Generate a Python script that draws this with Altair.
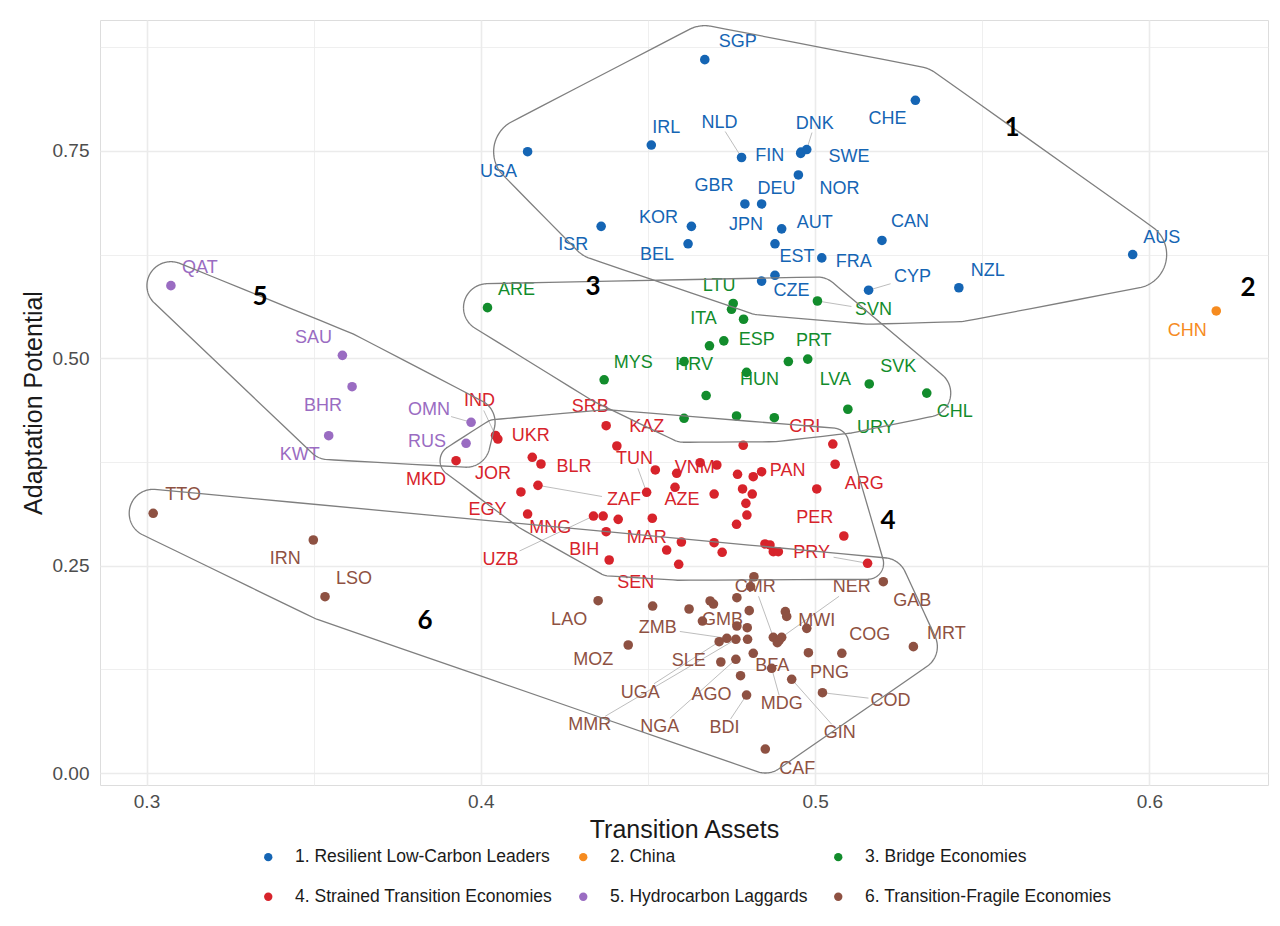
import numpy as np
import pandas as pd
import altair as alt

# ------------------------------------------------------------------ data
GROUPS = ["1. Resilient Low-Carbon Leaders", "2. China", "3. Bridge Economies",
          "4. Strained Transition Economies", "5. Hydrocarbon Laggards",
          "6. Transition-Fragile Economies"]
COLORS = ["#1565b4", "#f68b1f", "#128c2c", "#d7232b", "#9a6cc2", "#8e5142"]

c1_code = ["SGP", "CHE", "USA", "IRL", "NLD", "FIN", "SWE", "DNK", "NOR", "GBR", "DEU", "KOR",
           "ISR", "BEL", "AUT", "JPN", "FRA", "EST", "CZE", "CAN", "CYP", "NZL", "AUS"]
c1_x = [0.467, 0.530, 0.414, 0.451, 0.478, 0.4957, 0.4958, 0.4975, 0.495, 0.479, 0.484, 0.463,
        0.436, 0.462, 0.490, 0.488, 0.502, 0.488, 0.484, 0.520, 0.516, 0.543, 0.595]
c1_y = [0.860, 0.811, 0.749, 0.757, 0.742, 0.747, 0.7486, 0.7516, 0.721, 0.686, 0.686, 0.659,
        0.659, 0.638, 0.656, 0.638, 0.621, 0.600, 0.593, 0.642, 0.582, 0.585, 0.625]

c2_code = ["CHN"]
c2_x = [0.620]
c2_y = [0.557]

c3_code = ["ARE", "LTU", "ITA", "", "SVN", "ESP", "", "MYS", "HRV", "HUN", "LVA", "PRT",
           "SVK", "CHL", "URY", "", "", "", ""]
c3_x = [0.402, 0.4755, 0.475, 0.4786, 0.5007, 0.4727, 0.4684, 0.4369, 0.4608, 0.4795, 0.492,
        0.4978, 0.5162, 0.5334, 0.5098, 0.4674, 0.4608, 0.4765, 0.4878]
c3_y = [0.561, 0.566, 0.559, 0.547, 0.569, 0.521, 0.515, 0.474, 0.496, 0.483, 0.496,
        0.499, 0.469, 0.458, 0.4385, 0.455, 0.4276, 0.4304, 0.4283]

c4_code = ["IND", "UKR", "MKD", "", "BLR", "JOR", "ZAF", "EGY", "UZB", "", "", "MNG", "BIH",
           "SRB", "KAZ", "TUN", "", "VNM", "", "", "AZE", "", "MAR", "", "SEN", "", "", "",
           "", "", "", "PAN", "", "", "", "", "", "", "", "", "", "CRI", "ARG", "", "PER", "PRY"]
c4_x = [0.4044, 0.4051, 0.3926, 0.4154, 0.4180, 0.4120, 0.4171, 0.4140, 0.4337, 0.4366, 0.4411,
        0.4375, 0.4384, 0.4375, 0.4407, 0.4496, 0.4522, 0.4586, 0.4656, 0.4706, 0.4581, 0.4513,
        0.4556, 0.4600, 0.4592, 0.4698, 0.4698, 0.4722, 0.4785, 0.4768, 0.4815, 0.4840, 0.4783,
        0.4812, 0.4793, 0.4796, 0.4765, 0.4850, 0.4865, 0.4875, 0.4890, 0.5053, 0.5060, 0.5005,
        0.5086, 0.5157]
c4_y = [0.4069, 0.4026, 0.3765, 0.3806, 0.3725, 0.3388, 0.3468, 0.3122, 0.3098, 0.3098, 0.3058,
        0.2909, 0.2568, 0.4187, 0.3942, 0.3384, 0.3653, 0.3613, 0.3741, 0.3713, 0.3444, 0.3071,
        0.2688, 0.2785, 0.2516, 0.3363, 0.2776, 0.2661, 0.3951, 0.3601, 0.3572, 0.3632, 0.3424,
        0.3363, 0.3251, 0.3110, 0.2998, 0.2761, 0.2749, 0.2668, 0.2668, 0.3966, 0.3722, 0.3424,
        0.2857, 0.2528]

c5_code = ["QAT", "SAU", "BHR", "KWT", "OMN", "RUS"]
c5_x = [0.3073, 0.3586, 0.3615, 0.3545, 0.3971, 0.3956]
c5_y = [0.5875, 0.5035, 0.4657, 0.4066, 0.4228, 0.3975]

c6_code = ["TTO", "IRN", "LSO", "", "", "GAB", "LAO", "", "", "", "", "", "", "GMB", "", "",
           "MMR", "", "ZMB", "UGA", "", "MWI", "", "CMR", "", "NER", "", "COG", "MRT", "MOZ",
           "SLE", "NGA", "BFA", "PNG", "MDG", "AGO", "GIN", "COD", "BDI", "CAF"]
c6_x = [0.3020, 0.3499, 0.3534, 0.4817, 0.4807, 0.5204, 0.4351, 0.4514, 0.4623, 0.4686, 0.4696,
        0.4766, 0.4803, 0.4663, 0.4766, 0.4797, 0.4763, 0.4798, 0.4736, 0.4713, 0.4911, 0.4915,
        0.4975, 0.4875, 0.4893, 0.4900, 0.4887, 0.5080, 0.5294, 0.4441, 0.4718, 0.4763, 0.4815,
        0.4980, 0.4870, 0.4777, 0.4930, 0.5022, 0.4795, 0.4851]
c6_y = [0.3131, 0.2809, 0.2125, 0.2366, 0.2246, 0.2306, 0.2077, 0.2013, 0.1977, 0.2074, 0.2037,
        0.2113, 0.1957, 0.1832, 0.1772, 0.1752, 0.1612, 0.1612, 0.1624, 0.1583, 0.1945, 0.1887,
        0.1744, 0.1636, 0.1603, 0.1636, 0.1571, 0.1443, 0.1523, 0.1543, 0.1338, 0.1371, 0.1443,
        0.1450, 0.1262, 0.1173, 0.1130, 0.0968, 0.0940, 0.0289]

CLUSTER_NUM = ["1", "2", "3", "4", "5", "6"]
CLUSTER_NUM_X = [0.5589, 0.6295, 0.4336, 0.5218, 0.3340, 0.3833]
CLUSTER_NUM_Y = [0.7776, 0.5847, 0.5859, 0.3038, 0.5738, 0.1832]

# label placement (pixel offsets from the point, dy downwards, leader flag)
LABEL_OFFSET = {
    "SGP": (33, -18, 0), "CHE": (-28, 19, 0), "USA": (-29, 20, 0), "IRL": (15, -17, 0),
    "NLD": (-22, -35, 1), "FIN": (-31, 3, 0), "DNK": (8, -26, 1), "SWE": (48, 5, 0),
    "NOR": (41, 14, 0), "GBR": (-31, -18, 0), "DEU": (15, -15, 0), "KOR": (-33, -8, 0),
    "ISR": (-28, 19, 0), "BEL": (-31, 11, 0), "JPN": (-29, -19, 0), "AUT": (33, -6, 0),
    "EST": (22, -18, 0), "FRA": (32, 4, 0), "CZE": (30, 10, 0), "CAN": (28, -18, 0),
    "CYP": (44, -13, 1), "NZL": (29, -17, 0), "AUS": (29, -17, 0), "CHN": (-29, 20, 0),
    "ARE": (29, -18, 0), "LTU": (-14, -18, 0), "ITA": (-28, 10, 0), "SVN": (56, 9, 1),
    "ESP": (33, -1, 0), "PRT": (6, -18, 0), "MYS": (29, -17, 0), "HRV": (10, 3, 0),
    "HUN": (13, 8, 0), "LVA": (47, 18, 0), "SVK": (29, -17, 0), "CHL": (28, 19, 0),
    "URY": (28, 19, 0),
    "QAT": (29, -18, 0), "SAU": (-29, -17, 0), "BHR": (-29, 19, 0), "KWT": (-29, 19, 0),
    "OMN": (-42, -12, 1), "RUS": (-39, -1, 0),
    "IND": (-16, -34, 1), "UKR": (33, -3, 0), "MKD": (-30, 19, 0), "BLR": (33, 3, 0),
    "JOR": (-28, -18, 0), "ZAF": (86, 15, 1), "EGY": (-40, -4, 0), "MNG": (-56, -4, 0),
    "UZB": (-93, 44, 1), "BIH": (-25, -10, 0), "SRB": (-16, -19, 0), "KAZ": (30, -19, 0),
    "TUN": (-12, -33, 1), "VNM": (18, -5, 0), "AZE": (7, 13, 0), "MAR": (-20, -12, 0),
    "SEN": (-43, 19, 0), "PAN": (26, -1, 0), "CRI": (-28, -17, 0), "ARG": (29, 20, 0),
    "PER": (-29, -18, 0), "PRY": (-56, -10, 1),
    "TTO": (30, -18, 0), "IRN": (-28, 19, 0), "LSO": (29, -18, 0), "LAO": (-29, 19, 0),
    "CMR": (-18, -50, 1), "GAB": (29, 19, 0), "NER": (70, -50, 1), "GMB": (20, -1, 0),
    "ZMB": (-69, -10, 1), "MWI": (30, 5, 0), "COG": (28, -18, 0), "MRT": (33, -13, 0),
    "MOZ": (-35, 15, 0), "SLE": (-32, -1, 0), "BFA": (19, 13, 0), "PNG": (21, 20, 0),
    "MDG": (10, 36, 1), "AGO": (-29, 19, 0), "GIN": (48, 54, 1), "COD": (68, 8, 1),
    "BDI": (-22, 33, 1), "CAF": (32, 20, 0), "UGA": (-79, 51, 1), "MMR": (-146, 86, 1),
    "NGA": (-76, 68, 1),
}
HULL_RADIUS = {1: 34, 3: 24, 4: 16, 5: 24, 6: 24}

# ------------------------------------------------------------------ frames
clusters = [(1, c1_code, c1_x, c1_y), (2, c2_code, c2_x, c2_y), (3, c3_code, c3_x, c3_y),
            (4, c4_code, c4_x, c4_y), (5, c5_code, c5_x, c5_y), (6, c6_code, c6_x, c6_y)]
rows = []
for k, codes, xs, ys in clusters:
    for c, x, y in zip(codes, xs, ys):
        rows.append(dict(code=c, x=x, y=y, cl=k, group=GROUPS[k - 1], col=COLORS[k - 1]))
df = pd.DataFrame(rows)

PXX, PXY = 3343.0, 829.5          # pixels per data unit
W, H = 1168, 765
x0 = 0.3 - 46.5 / PXX
XDOM = [x0, x0 + W / PXX]
YDOM = [-12 / PXY, 753 / PXY]

lab_rows, seg_rows = [], []
for r in df.itertuples():
    if not r.code or r.code not in LABEL_OFFSET:
        continue
    dx, dy, lead = LABEL_OFFSET[r.code]
    lab_rows.append(dict(code=r.code, lx=r.x + dx / PXX, ly=r.y - dy / PXY, col=r.col))
    if lead:
        hw, hh = 22.0, 9.0
        t = min(hw / abs(dx) if dx else 1e9, hh / abs(dy) if dy else 1e9)
        ex, ey = dx * (1 - t), dy * (1 - t)
        seg_rows.append(dict(sx=r.x, sy=r.y, ex=r.x + ex / PXX, ey=r.y - ey / PXY))
labs = pd.DataFrame(lab_rows)
segs = pd.DataFrame(seg_rows)


def convex_hull(pts):
    pts = sorted(set(pts))
    if len(pts) <= 2:
        return pts

    def cross(o, a, b):
        return (a[0] - o[0]) * (b[1] - o[1]) - (a[1] - o[1]) * (b[0] - o[0])
    lower, upper = [], []
    for p in pts:
        while len(lower) >= 2 and cross(lower[-2], lower[-1], p) <= 0:
            lower.pop()
        lower.append(p)
    for p in reversed(pts):
        while len(upper) >= 2 and cross(upper[-2], upper[-1], p) <= 0:
            upper.pop()
        upper.append(p)
    return lower[:-1] + upper[:-1]


hull_rows = []
ang = np.linspace(0, 2 * np.pi, 60, endpoint=False)
for k, codes, xs, ys in clusters:
    if k not in HULL_RADIUS:
        continue
    rad = HULL_RADIUS[k]
    P = []
    for x, y in zip(xs, ys):
        px, py = x * PXX, y * PXY
        for a in ang:
            P.append((round(px + rad * np.cos(a), 3), round(py + rad * np.sin(a), 3)))
    Hh = np.array(convex_hull(P))
    for _ in range(2):
        Q = np.roll(Hh, -1, axis=0)
        N = np.empty((2 * len(Hh), 2))
        N[0::2] = 0.75 * Hh + 0.25 * Q
        N[1::2] = 0.25 * Hh + 0.75 * Q
        Hh = N
    Hh = np.vstack([Hh, Hh[:1]])
    for i, (hx, hy) in enumerate(Hh):
        hull_rows.append(dict(hx=hx / PXX, hy=hy / PXY, cl=k, idx=i))
hulls = pd.DataFrame(hull_rows)
nums = pd.DataFrame(dict(t=CLUSTER_NUM, x=CLUSTER_NUM_X, y=CLUSTER_NUM_Y))

# ------------------------------------------------------------------ chart
FONT = "Liberation Sans"
xscale = alt.Scale(domain=XDOM, nice=False, zero=False)
yscale = alt.Scale(domain=YDOM, nice=False, zero=False)
xmaj = "abs(datum.value*10-round(datum.value*10))<0.01"
ymaj = "abs(datum.value*4-round(datum.value*4))<0.01"

xaxis = alt.Axis(values=[0.3, 0.35, 0.4, 0.45, 0.5, 0.55, 0.6],
                 labelExpr=f"{xmaj} ? format(datum.value, '.1f') : ''",
                 grid=True, gridColor="#ebebeb",
                 gridWidth={"condition": {"test": xmaj, "value": 1.6}, "value": 0.8},
                 domain=False, ticks=False, labelFontSize=19, labelColor="#4d4d4d",
                 labelPadding=7, labelFlush=False, labelOverlap=False, labelFont=FONT,
                 title="Transition Assets", titleFontSize=25, titleFontWeight="normal",
                 titleColor="#1a1a1a", titleFont=FONT, titleX=W / 2, titleY=44,
                 titleBaseline="middle")
yaxis = alt.Axis(values=[0, 0.125, 0.25, 0.375, 0.5, 0.625, 0.75, 0.875],
                 labelExpr=f"{ymaj} ? format(datum.value, '.2f') : ''",
                 grid=True, gridColor="#ebebeb",
                 gridWidth={"condition": {"test": ymaj, "value": 1.6}, "value": 0.8},
                 domain=False, ticks=False, labelFontSize=19, labelColor="#4d4d4d",
                 labelPadding=11, labelFlush=False, labelOverlap=False, labelFont=FONT,
                 title="Adaptation Potential", titleFontSize=25, titleFontWeight="normal",
                 titleColor="#1a1a1a", titleFont=FONT, titleX=-67, titleY=H / 2,
                 titleBaseline="middle", titleAngle=-90)

legend = alt.Legend(orient="none", legendX=159.5, legendY=828, direction="horizontal",
                    columns=3, title=None, symbolType="circle", symbolSize=70,
                    labelFontSize=17.5, labelColor="#1a1a1a", labelFont=FONT, labelLimit=0,
                    columnPadding=22, rowPadding=21, labelOffset=18, symbolOpacity=1,
                    symbolStrokeWidth=0)

segs_layer = alt.Chart(segs).mark_rule(color="#b5b5b5", strokeWidth=0.9).encode(
    x=alt.X("sx:Q", scale=xscale, axis=xaxis), y=alt.Y("sy:Q", scale=yscale, axis=yaxis),
    x2="ex:Q", y2="ey:Q")

points = alt.Chart(df).mark_circle(size=92, opacity=1).encode(
    x=alt.X("x:Q", scale=xscale, axis=xaxis),
    y=alt.Y("y:Q", scale=yscale, axis=yaxis),
    color=alt.Color("group:N", scale=alt.Scale(domain=GROUPS, range=COLORS), legend=legend))

labels = alt.Chart(labs).mark_text(font=FONT, fontSize=18, align="center",
                                   baseline="middle").encode(
    x=alt.X("lx:Q", scale=xscale, axis=xaxis), y=alt.Y("ly:Q", scale=yscale, axis=yaxis),
    text="code:N", color=alt.Color("col:N", scale=None))

hull_layer = alt.Chart(hulls).mark_line(color="#7f7f7f", strokeWidth=1.3).encode(
    x=alt.X("hx:Q", scale=xscale, axis=xaxis), y=alt.Y("hy:Q", scale=yscale, axis=yaxis),
    detail="cl:N", order="idx:Q")

num_layer = alt.Chart(nums).mark_text(font="Lato", fontWeight="bold", fontSize=26,
                                      color="#000000", align="center",
                                      baseline="middle").encode(
    x=alt.X("x:Q", scale=xscale, axis=xaxis), y=alt.Y("y:Q", scale=yscale, axis=yaxis),
    text="t:N")

chart = alt.layer(segs_layer, points, labels, hull_layer, num_layer).properties(
    width=W, height=H,
    autosize=alt.AutoSizeParams(type="none"),
    padding={"left": 92, "top": 12, "right": 4, "bottom": 133},
    background="white",
).configure_view(stroke=None).configure(font=FONT)

chart.save("out.html", embed_options={"renderer": "svg", "actions": False})
